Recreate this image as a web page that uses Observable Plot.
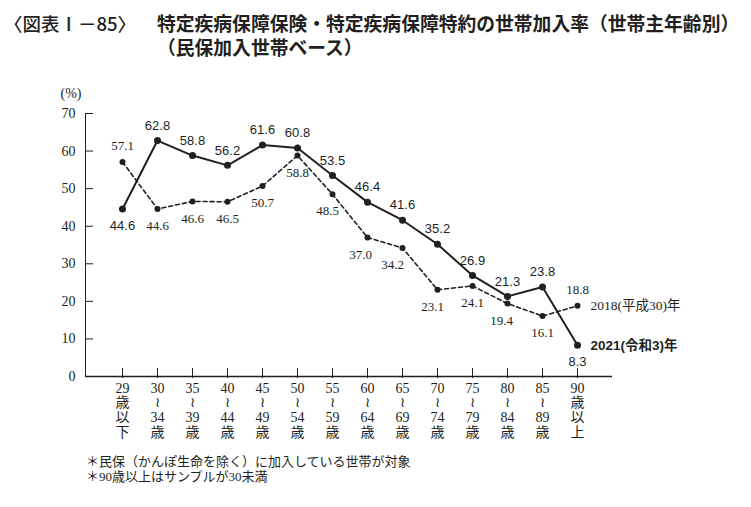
<!DOCTYPE html>
<html><head><meta charset="utf-8">
<script src="https://cdn.jsdelivr.net/npm/d3@7"></script>
<script src="https://cdn.jsdelivr.net/npm/@observablehq/plot@0.6"></script>
<style>
html,body{margin:0;padding:0;background:#fff;}
body{width:751px;height:507px;position:relative;overflow:hidden;color:#231f20;}
.t{position:absolute;white-space:nowrap;font-family:"Noto Sans CJK JP",sans-serif;font-weight:700;font-size:18.8px;line-height:24px;}
.h{font-weight:500;font-size:18.5px;left:4px;}
#chart{position:absolute;left:0;top:70px;}
.n{position:absolute;left:86px;white-space:nowrap;font-family:"Liberation Serif","Noto Sans CJK JP",serif;font-size:13px;line-height:15px;}
</style></head>
<body>
<div class="t h" style="top:11px;">〈図表Ⅰ－85〉</div>
<div class="t" style="left:157px;top:11px;">特定疾病保障保険・特定疾病保障特約の世帯加入率（世帯主年齢別）<br>（民保加入世帯ベース）</div>
<div id="chart"></div>
<div class="n" style="top:454px;">＊民保（かんぽ生命を除く）に加入している世帯が対象<br>＊90歳以上はサンプルが30未満</div>
<script>
const ages = ["~29","30-34","35-39","40-44","45-49","50-54","55-59","60-64","65-69","70-74","75-79","80-84","85-89","90~"];
const ageLabels = ["29\n歳\n以\n下","30\n≀\n34\n歳","35\n≀\n39\n歳","40\n≀\n44\n歳","45\n≀\n49\n歳","50\n≀\n54\n歳","55\n≀\n59\n歳","60\n≀\n64\n歳","65\n≀\n69\n歳","70\n≀\n74\n歳","75\n≀\n79\n歳","80\n≀\n84\n歳","85\n≀\n89\n歳","90\n歳\n以\n上"];
const rate2021 = [44.6,62.8,58.8,56.2,61.6,60.8,53.5,46.4,41.6,35.2,26.9,21.3,23.8,8.3];
const rate2018 = [57.1,44.6,46.6,46.5,50.7,58.8,48.5,37.0,34.2,23.1,24.1,19.4,16.1,18.8];
const yTicks = [0,10,20,30,40,50,60,70];
const seriesNames = ["2021(令和3)年","2018(平成30)年"];

const d21 = ages.map((a,i)=>({age:a, v:rate2021[i], i}));
const d18 = ages.map((a,i)=>({age:a, v:rate2018[i], i}));

// label placement rules (styling only)
const below21 = new Set([0,13]);
const above18 = new Set([0,13]);
const shift18 = {6:-5,7:-7,8:-10,9:-5,11:-6};

const serif = "Liberation Serif, Noto Sans CJK JP, serif";
const sans = "Liberation Sans, Noto Sans CJK JP, sans-serif";
const ink = "#231f20";

const plot = Plot.plot({
  width: 751, height: 370,
  marginLeft: 85, marginRight: 139, marginTop: 43, marginBottom: 64,
  style: {fontFamily: serif, color: ink, background: "transparent"},
  x: {type: "point", domain: ages, range: [116, 582], padding: 0, axis: null},
  y: {domain: [0, 70], axis: null},
  marks: [
    Plot.frame({anchor: "left", stroke: ink}),
    Plot.ruleY([0], {stroke: ink, strokeWidth: 1.3}),
    Plot.axisY({ticks: yTicks, tickSize: 8, dx: 8, tickPadding: 10, fontSize: 14, label: null, stroke: ink, fill: ink}),
    Plot.axisX({tickSize: 10, dy: -8, tickFormat: () => "", label: null, stroke: ink}),
    Plot.text(ages, {x: d => d, frameAnchor: "bottom", text: (d,i) => ageLabels[i], lineAnchor: "top", dy: 6, fontSize: 14, lineHeight: 1.04, fill: ink}),
    Plot.text(["(%)"], {frameAnchor: "top-left", textAnchor: "start", lineAnchor: "middle", dx: -25, dy: -20, fontSize: 14, fill: ink}),
    // 2018 dashed
    Plot.line(d18, {x: "age", y: "v", stroke: ink, strokeWidth: 1.6, strokeDasharray: "4,3"}),
    Plot.dot(d18, {x: "age", y: "v", r: 3, fill: ink}),
    // 2021 solid
    Plot.line(d21, {x: "age", y: "v", stroke: ink, strokeWidth: 2}),
    Plot.dot(d21, {x: "age", y: "v", r: 3.5, fill: ink}),
    // value labels 2021
    Plot.text(d21.filter(d => !below21.has(d.i)), {x: "age", y: "v", text: d => d.v.toFixed(1), dy: -15, fontFamily: sans, fontSize: 13, fill: ink}),
    Plot.text(d21.filter(d => below21.has(d.i)), {x: "age", y: "v", text: d => d.v.toFixed(1), dy: 17, fontFamily: sans, fontSize: 13, fill: ink}),
    // value labels 2018
    Plot.text(d18.filter(d => above18.has(d.i)), {x: "age", y: "v", text: d => d.v.toFixed(1), dy: -16, fontFamily: serif, fontSize: 13, fill: ink}),
    ...d18.filter(d => !above18.has(d.i)).map(d =>
      Plot.text([d], {x: "age", y: "v", text: d => d.v.toFixed(1), dy: 17, dx: shift18[d.i] || 0, fontFamily: serif, fontSize: 13, fill: ink})),
    // series labels
    Plot.text([d21[13]], {x: "age", y: "v", text: () => seriesNames[0], dx: 13, textAnchor: "start", fontFamily: sans, fontWeight: 600, fontSize: 13.5, fill: ink}),
    Plot.text([d18[13]], {x: "age", y: "v", text: () => seriesNames[1], dx: 13, textAnchor: "start", fontFamily: serif, fontSize: 13.5, fill: ink})
  ]
});
document.getElementById("chart").appendChild(plot);
</script>
</body></html>
